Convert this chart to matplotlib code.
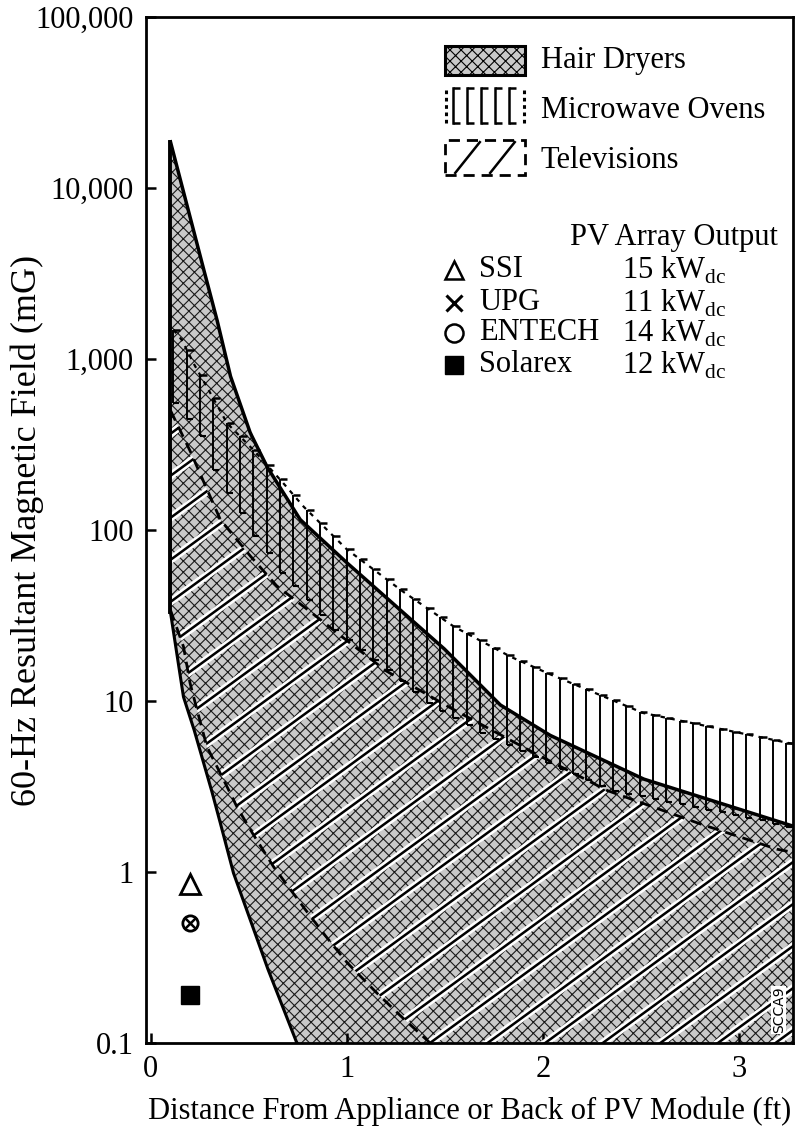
import numpy as np
import matplotlib.pyplot as plt
from matplotlib.patches import Polygon, Rectangle
from matplotlib import patheffects as pe

plt.rcParams['font.family'] = ['Liberation Serif', 'DejaVu Serif']
plt.rcParams['hatch.linewidth'] = 0.8

# hair dryers band (distance ft, field mG)
hd_up_x = [0.10, 0.243, 0.337, 0.405, 0.507, 0.592, 0.762, 0.989, 1.491, 1.782, 2.037, 2.513, 3.28]
hd_up_y = [18600, 4350, 1700, 800, 370, 235, 115, 66, 20.5, 9.5, 6.3, 3.5, 1.85]
hd_lo_x = [0.10, 0.166, 0.217, 0.303, 0.337, 0.421, 0.592, 0.745]
hd_lo_y = [33, 10.6, 7.0, 3.2, 2.3, 0.99, 0.28, 0.1]

# microwave ovens band
mw_up_x = [0.115, 0.158, 0.217, 0.303, 0.388, 0.523, 0.660, 0.779, 0.915, 1.0,
           1.272, 1.544, 1.833, 2.020, 2.513, 3.28]
mw_up_y = [1480, 1290, 946, 634, 422, 294, 197, 137, 96, 77, 44.8, 27.3, 18.2, 14.6, 8.5, 5.6]
mw_lo_x = [0.115, 0.175, 0.252, 0.319, 0.388, 0.456, 0.523, 0.592, 0.660, 0.796,
           0.932, 1.134, 1.408, 1.680, 1.950, 2.343, 3.109, 3.28]
mw_lo_y = [550, 461, 352, 225, 164, 126, 92, 73, 56, 39, 26, 17.5, 9.7, 6.5, 4.7, 3.0, 2.0, 1.8]

# televisions band
tv_up_x = [0.10, 0.2, 0.354, 0.5, 0.643, 0.762, 0.95, 1.2, 1.5, 1.95, 2.327, 2.786, 3.194, 3.28]
tv_up_y = [500, 290, 115, 72, 47, 37, 25, 15, 9.5, 5.0, 3.0, 1.94, 1.36, 1.3]
tv_lo_x = [0.10, 0.166, 0.2, 0.235, 0.286, 0.354, 0.439, 0.507, 0.624, 0.762, 0.879,
           1.0, 1.134, 1.255, 1.425]
tv_lo_y = [34, 20.9, 12.7, 8.9, 5.4, 3.8, 2.4, 1.77, 1.08, 0.66, 0.44, 0.296, 0.206, 0.151, 0.1]

# PV arrays measured
pv_names = ['SSI', 'UPG', 'ENTECH', 'Solarex']
pv_power = ['15', '11', '14', '12']
pv_x = [0.2, 0.2, 0.2, 0.2]
pv_y = [0.85, 0.5, 0.5, 0.19]
pv_markers = ['^', 'x', 'o', 's']

y_ticks = [0.1, 1, 10, 100, 1000, 10000, 100000]
y_labels = ['0.1', '1', '10', '100', '1,000', '10,000', '100,000']
x_ticks = [0, 1, 2, 3]


def logi(g, xs, ys, right=None):
    return 10 ** np.interp(g, xs, np.log10(ys), right=right)


fig = plt.figure(figsize=(7.96, 11.37), dpi=100)
ax = fig.add_axes([0.1834, 0.0827, 0.8128, 0.9024])
ax.set_yscale('log')
ax.set_xlim(-0.025, 3.277)
ax.set_ylim(0.1, 100000)

# hair dryers
g = np.linspace(hd_up_x[0], hd_up_x[-1], 800)
hd_top = logi(g, hd_up_x, hd_up_y)
hd_bot = logi(g, hd_lo_x, hd_lo_y, right=-3)
ax.fill_between(g, hd_bot, hd_top, facecolor='#c9c9c9', edgecolor='#1a1a1a',
                hatch='xxx', linewidth=0, zorder=1)

# televisions: diagonal lines clipped to the band
tv_verts = list(zip(tv_up_x, tv_up_y)) + [(tv_up_x[-1], 1e-3), (tv_lo_x[-1], 1e-3)] \
    + list(zip(tv_lo_x[::-1], tv_lo_y[::-1]))
tv_poly = Polygon(tv_verts, closed=True, facecolor='none', edgecolor='none')
ax.add_patch(tv_poly)
slope = 0.73 * 647 / 1026
for c in np.arange(0.439 - 0.089 * 40, 1.2, 0.089):
    ln, = ax.plot([-0.1, 1.1], [slope * (-0.1 - c), slope * (1.1 - c)],
                  transform=ax.transAxes, color='black', lw=1.8, zorder=2,
                  path_effects=[pe.Stroke(linewidth=5.5, foreground='white'), pe.Normal()])
    ln.set_clip_path(tv_poly)

gt = np.linspace(tv_up_x[0], tv_up_x[-1], 600)
ax.plot(gt, logi(gt, tv_up_x, tv_up_y), color='black', lw=2.0, ls=(0, (4, 2.5)), zorder=3)
gl = np.linspace(tv_lo_x[0], tv_lo_x[-1], 400)
ax.plot(gl, logi(gl, tv_lo_x, tv_lo_y), color='black', lw=2.0, ls=(0, (4, 2.5)), zorder=3)
ax.plot([tv_up_x[0], tv_lo_x[0]], [tv_up_y[0], tv_lo_y[0]], color='black', lw=2.0,
        ls=(0, (4, 2.5)), zorder=3)

# microwave ovens
mw_pos = np.arange(mw_up_x[0], 3.26, 0.068)
mw_top = logi(mw_pos, mw_up_x, mw_up_y)
mw_bot = logi(mw_pos, mw_lo_x, mw_lo_y)
ax.vlines(mw_pos, mw_bot, mw_top, colors='black', lw=1.4, zorder=3)
ax.plot(mw_pos, mw_top, ls='none', marker=1, ms=5, mew=1.8, color='black', zorder=3)
ax.plot(mw_pos, mw_bot, ls='none', marker=1, ms=4, mew=1.5, color='black', zorder=3)
gm = np.linspace(mw_up_x[0], mw_up_x[-1], 600)
ax.plot(gm, logi(gm, mw_up_x, mw_up_y), color='black', lw=1.6, ls=(0, (2, 2.5)), zorder=3)

# hair dryer outline on top
ax.plot(g, hd_top, color='black', lw=2.5, zorder=4)
gh = np.linspace(hd_lo_x[0], hd_lo_x[-1], 400)
ax.plot(gh, logi(gh, hd_lo_x, hd_lo_y), color='black', lw=2.2, zorder=4)
ax.plot([hd_up_x[0], hd_lo_x[0]], [hd_up_y[0], hd_lo_y[0]], color='black', lw=2.8, zorder=4)

# measured PV arrays
for xv, yv, m in zip(pv_x, pv_y, pv_markers):
    if m == 's':
        ax.plot(xv, yv, marker=m, ms=13, color='black', zorder=5)
    elif m == 'x':
        ax.plot(xv, yv, marker=m, ms=8, mew=1.8, color='black', zorder=6)
    else:
        ax.plot(xv, yv, marker=m, ms=14 if m == '^' else 11,
                mfc='white' if m == '^' else 'none', mec='black', mew=2.0, zorder=5)

# legend boxes
ax.add_patch(Rectangle((0.4621, 0.9435), 0.1236, 0.0285, transform=ax.transAxes,
                       facecolor='#c9c9c9', edgecolor='black', hatch='xxx', lw=2.2, zorder=6))
for fx in [0.4745, 0.4961, 0.5178, 0.5394, 0.5611]:
    ax.plot([fx, fx], [0.8967, 0.9308], transform=ax.transAxes, color='black', lw=1.8, zorder=6)
    ax.plot([fx, fx], [0.8967, 0.9308], transform=ax.transAxes, ls='none', marker=1,
            ms=5, mew=1.8, color='black', zorder=6)
for fx in [0.4637, 0.5842]:
    ax.plot([fx, fx], [0.8967, 0.9308], transform=ax.transAxes, color='black', lw=2.2,
            ls=(0, (1.2, 1.2)), zorder=6)
ax.add_patch(Rectangle((0.4621, 0.846), 0.1236, 0.034, transform=ax.transAxes,
                       facecolor='white', edgecolor='black', lw=2.0, ls=(0, (4, 2.5)), zorder=6))
for x0 in [0.478, 0.532]:
    ax.plot([x0, x0 + 0.038], [0.848, 0.878], transform=ax.transAxes, color='black',
            lw=1.8, zorder=6)

fs = 22
ax.text(0.6105, 0.9571, 'Hair Dryers', transform=ax.transAxes, fontsize=fs, va='center')
ax.text(0.6105, 0.9084, 'Microwave Ovens', transform=ax.transAxes, fontsize=fs, va='center')
ax.text(0.6105, 0.8596, 'Televisions', transform=ax.transAxes, fontsize=fs, va='center')
ax.text(0.6553, 0.7846, 'PV Array Output', transform=ax.transAxes, fontsize=fs, va='center')

row_y = [0.7534, 0.7212, 0.6920, 0.6608]
for name, pw, m, ry in zip(pv_names, pv_power, pv_markers, row_y):
    if m == 's':
        ax.plot(0.476, ry, marker=m, ms=13, color='black', transform=ax.transAxes)
    elif m == 'x':
        ax.plot(0.476, ry, marker=m, ms=11, mew=2.2, color='black', transform=ax.transAxes)
    else:
        ax.plot(0.476, ry, marker=m, ms=13, mfc='white', mec='black', mew=1.8,
                transform=ax.transAxes)
    ax.text(0.5147, ry, name, transform=ax.transAxes, fontsize=fs, va='center')
    ax.text(0.7357, ry, pw + r' kW$_{\mathregular{dc}}$', transform=ax.transAxes,
            fontsize=fs, va='center')

ax.text(0.978, 0.032, 'SCCA9', transform=ax.transAxes, fontsize=10, rotation=90,
        ha='center', va='center', family='DejaVu Sans', zorder=6,
        bbox=dict(facecolor='white', edgecolor='none', pad=0.5))

ax.set_yticks(y_ticks, y_labels)
ax.set_xticks(x_ticks)
ax.minorticks_off()
ax.tick_params(direction='in', length=7, width=1.8, labelsize=fs, pad=9)
for s in ax.spines.values():
    s.set_linewidth(2.0)

ax.set_xlabel('Distance From Appliance or Back of PV Module (ft)', fontsize=fs)
ax.set_ylabel('60-Hz Resultant Magnetic Field (mG)', fontsize=26)
ax.xaxis.set_label_coords(0.5, -0.052)
ax.yaxis.set_label_coords(-0.158, 0.5)

fig.savefig('out.png', dpi=100)
